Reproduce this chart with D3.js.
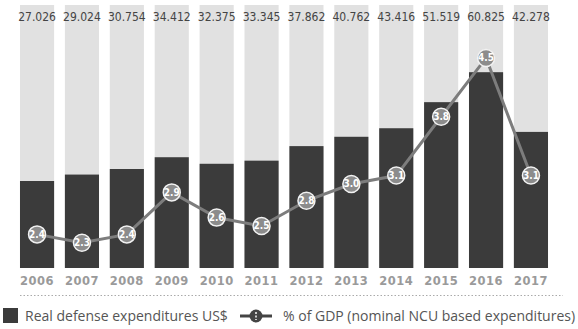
<!DOCTYPE html>
<html>
<head>
<meta charset="utf-8">
<script src="https://cdn.jsdelivr.net/npm/d3@7"></script>
<style>
  body { margin: 0; background: #fff; }
  svg { display: block; }
</style>
</head>
<body>
<svg id="chart" width="578" height="329"></svg>
<script>
// Data
const years = ['2006', '2007', '2008', '2009', '2010', '2011', '2012', '2013', '2014', '2015', '2016', '2017'];
const spending = [27.026, 29.024, 30.754, 34.412, 32.375, 33.345, 37.862, 40.762, 43.416, 51.519, 60.825, 42.278];
const spendingLabels = ['27.026', '29.024', '30.754', '34.412', '32.375', '33.345', '37.862', '40.762', '43.416', '51.519', '60.825', '42.278'];
const gdpShare = [2.4, 2.3, 2.4, 2.9, 2.6, 2.5, 2.8, 3.0, 3.1, 3.8, 4.5, 3.1];

const svg = d3.select('#chart');
const plotTop = 5, plotBottom = 268;

const x = d3.scaleBand()
    .domain(years)
    .range([14.6, 553.4])
    .paddingInner(0.24)
    .paddingOuter(0.12);

const yBar = d3.scaleLinear().domain([0, 81.7]).range([plotBottom, plotTop]);
const yPct = d3.scaleLinear().domain([2.0, 5.13]).range([plotBottom, plotTop]);

// Background columns
svg.selectAll('.bg')
    .data(years)
    .enter()
    .append('rect')
    .attr('x', d => x(d))
    .attr('y', plotTop)
    .attr('width', x.bandwidth())
    .attr('height', plotBottom - plotTop)
    .attr('fill', '#e1e1e1');

// Dark bars
svg.selectAll('.bar')
    .data(spending)
    .enter()
    .append('rect')
    .attr('x', (d, i) => x(years[i]))
    .attr('y', d => yBar(d))
    .attr('width', x.bandwidth())
    .attr('height', d => plotBottom - yBar(d))
    .attr('fill', '#3b3b3b');

// Value labels on top
svg.selectAll('.val')
    .data(spendingLabels)
    .enter()
    .append('text')
    .attr('x', (d, i) => x(years[i]) + x.bandwidth() / 2)
    .attr('y', 21)
    .attr('text-anchor', 'middle')
    .style('font-family', '"Liberation Sans Narrow", "DejaVu Sans Condensed", sans-serif')
    .style('font-size', '12px')
    .style('fill', '#444')
    .text(d => d);

// GDP line
const line = d3.line()
    .x((d, i) => x(years[i]) + x.bandwidth() / 2)
    .y(d => yPct(d));

svg.append('path')
    .datum(gdpShare)
    .attr('d', line)
    .attr('fill', 'none')
    .attr('stroke', '#7d7d7d')
    .attr('stroke-width', 3);

const pts = svg.selectAll('.pt')
    .data(gdpShare)
    .enter()
    .append('g')
    .attr('transform', (d, i) => `translate(${x(years[i]) + x.bandwidth() / 2},${yPct(d)})`);

pts.append('circle')
    .attr('r', 8.5)
    .attr('fill', '#8c8c8c')
    .attr('stroke', '#f2f2f2')
    .attr('stroke-width', 1.5);

pts.append('text')
    .attr('y', 3.5)
    .attr('text-anchor', 'middle')
    .style('font-family', '"Liberation Sans Narrow", "DejaVu Sans Condensed", sans-serif')
    .style('font-size', '10px')
    .style('font-weight', 'bold')
    .style('fill', '#fff')
    .text(d => d.toFixed(1));

// Year axis
svg.selectAll('.year')
    .data(years)
    .enter()
    .append('text')
    .attr('x', d => x(d) + x.bandwidth() / 2)
    .attr('y', 285)
    .attr('text-anchor', 'middle')
    .style('font-family', '"DejaVu Sans", sans-serif')
    .style('font-size', '11.5px')
    .style('font-weight', 'bold')
    .style('letter-spacing', '0.5px')
    .style('fill', '#9a9a9a')
    .text(d => d);

// Dotted separator
svg.append('line')
    .attr('x1', 20).attr('x2', 563)
    .attr('y1', 295.5).attr('y2', 295.5)
    .attr('stroke', '#aaa')
    .attr('stroke-width', 1)
    .attr('stroke-dasharray', '1.5,2');

// Legend
const legend = svg.append('g');
legend.append('rect')
    .attr('x', 3).attr('y', 308)
    .attr('width', 15).attr('height', 15)
    .attr('fill', '#3b3b3b');
legend.append('text')
    .attr('x', 25).attr('y', 321)
    .style('font-family', '"Open Sans", sans-serif')
    .style('font-size', '14px')
    .style('fill', '#555')
    .text('Real defense expenditures US$');

legend.append('line')
    .attr('x1', 240).attr('x2', 272)
    .attr('y1', 316).attr('y2', 316)
    .attr('stroke', '#444').attr('stroke-width', 3);
legend.append('circle')
    .attr('cx', 256).attr('cy', 316).attr('r', 6.5)
    .attr('fill', '#444');
legend.append('line')
    .attr('x1', 256).attr('x2', 256)
    .attr('y1', 312).attr('y2', 320)
    .attr('stroke', '#ccc').attr('stroke-width', 2)
    .attr('stroke-dasharray', '2,1.5');
legend.append('text')
    .attr('x', 283).attr('y', 321)
    .style('font-family', '"Open Sans", sans-serif')
    .style('font-size', '14px')
    .style('fill', '#555')
    .text('% of GDP (nominal NCU based expenditures)');
</script>
</body>
</html>
